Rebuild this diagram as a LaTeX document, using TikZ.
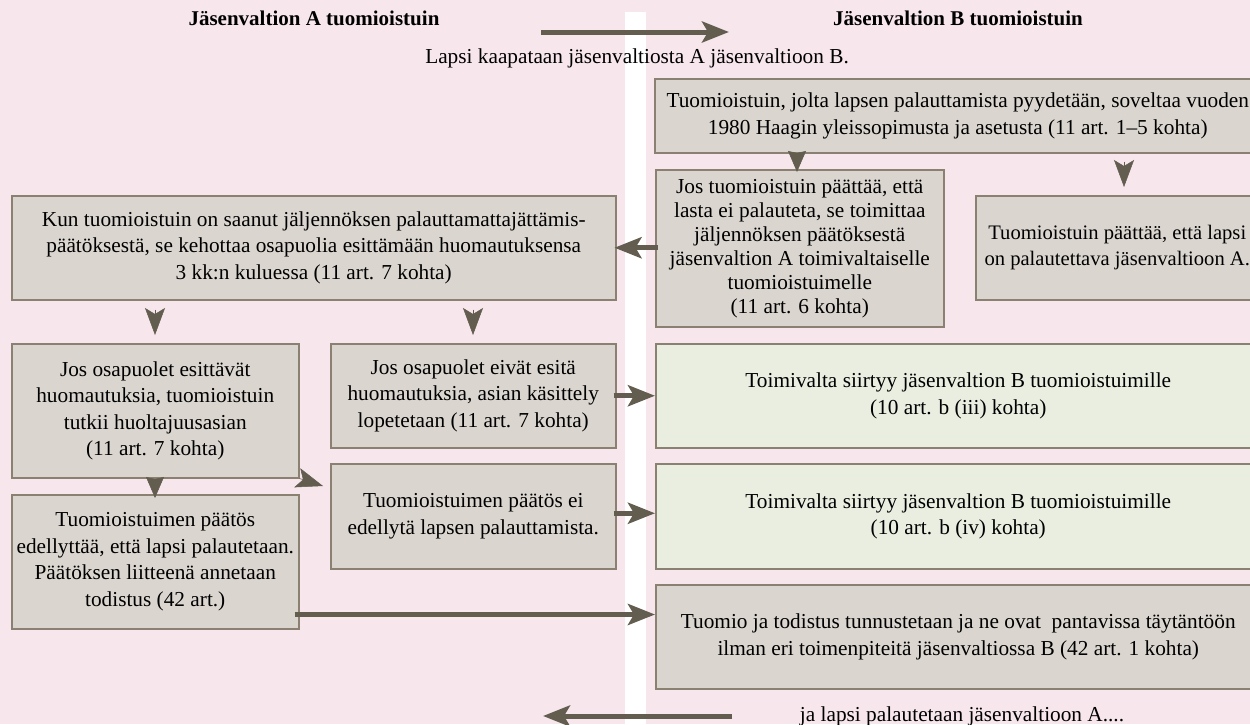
\documentclass[tikz,border=0pt]{standalone}
\usepackage{fontspec}
\setmainfont{Liberation Serif}
\usetikzlibrary{arrows.meta,calc}
\definecolor{bgpink}{HTML}{F7E7ED}
\definecolor{boxgrey}{HTML}{DAD6CF}
\definecolor{boxline}{HTML}{8A8172}
\definecolor{boxgreen}{HTML}{E9EEE1}
\definecolor{arrcol}{HTML}{625D4F}
\tikzset{
  x=1pt, y=-1pt,
  txt/.style={font=\fontsize{21.3}{26.5}\selectfont, align=center, inner sep=0pt},
  ttl/.style={font=\fontsize{21}{24}\selectfont\bfseries, inner sep=0pt},
  box/.style={draw=boxline, line width=1.5pt, fill=boxgrey, anchor=north west,
              font=\fontsize{21.3}{26.5}\selectfont, align=center, inner sep=0pt},
  gbox/.style={box, fill=boxgreen},
  arr/.style={draw=arrcol, line width=5pt,
              -{Stealth[length=27pt,width=21pt,inset=6pt,fill=arrcol]}},
  headonly/.style={draw=arrcol, line width=0.5pt,
              -{Stealth[length=27pt,width=20pt,inset=6pt,fill=arrcol]}},
  headcut/.style={draw=arrcol, line width=0.5pt,
              -{Stealth[length=21pt,width=18pt,inset=2pt,fill=arrcol]}},
}
\begin{document}
\begin{tikzpicture}
\useasboundingbox (0,0) rectangle (1250,724);
\fill[bgpink] (0,0) rectangle (1250,724);
\fill[white] (625,12) rectangle (646,724);

% titles
\node[ttl] (tA) at (314,18) {Jäsenvaltion A tuomioistuin};
\node[ttl] (tB) at (958,18) {Jäsenvaltion B tuomioistuin};
\node[txt] (kaappaus) at (637,58) {Lapsi kaapataan jäsenvaltiosta A jäsenvaltioon B.};
\node[txt] (paluu) at (962,716) {ja lapsi palautetaan jäsenvaltioon A....};

\coordinate (topS) at (541,32);
\coordinate (topE) at (729,32);
\coordinate (botS) at (732,716);
\coordinate (botE) at (543,716);

% boxes, right side
\node[box, minimum width=606pt, minimum height=74pt] (B1) at (654,78)
  {Tuomioistuin, jolta lapsen palauttamista pyydetään, soveltaa vuoden\\
   1980 Haagin yleissopimusta ja asetusta (11 art. 1–5 kohta)};
\node[box, minimum width=288pt, minimum height=157pt,
      font=\fontsize{21.3}{24}\selectfont] (B2) at (655,169)
  {Jos tuomioistuin päättää, että\\lasta ei palauteta, se toimittaa\\jäljennöksen päätöksestä\\
   jäsenvaltion A toimivaltaiselle\\tuomioistuimelle\\(11 art. 6 kohta)};
\node[box, minimum width=297pt, minimum height=104pt,
      font=\fontsize{20.6}{26.5}\selectfont] (B3) at (975,195)
  {Tuomioistuin päättää, että lapsi\hspace*{14pt}\\on palautettava jäsenvaltioon A.\hspace*{14pt}};
\node[gbox, minimum width=605pt, minimum height=104pt] (G1) at (655,343)
  {Toimivalta siirtyy jäsenvaltion B tuomioistuimille\\(10 art. b (iii) kohta)};
\node[gbox, minimum width=605pt, minimum height=105pt] (G2) at (655,463)
  {Toimivalta siirtyy jäsenvaltion B tuomioistuimille\\(10 art. b (iv) kohta)};
\node[box, minimum width=605pt, minimum height=104pt] (B4) at (655,584)
  {Tuomio ja todistus tunnustetaan ja ne ovat\ \ pantavissa täytäntöön\\
   ilman eri toimenpiteitä jäsenvaltiossa B (42 art. 1 kohta)};

% boxes, left side
\node[box, minimum width=604pt, minimum height=104pt] (A1) at (11,195)
  {Kun tuomioistuin on saanut jäljennöksen palauttamattajättämis-\\
   päätöksestä, se kehottaa osapuolia esittämään huomautuksensa\\
   3 kk:n kuluessa (11 art. 7 kohta)};
\node[box, minimum width=287pt, minimum height=134pt] (A2) at (11,343)
  {Jos osapuolet esittävät\\huomautuksia, tuomioistuin\\tutkii huoltajuusasian\\(11 art. 7 kohta)};
\node[box, minimum width=285pt, minimum height=104pt] (A3) at (330,343)
  {Jos osapuolet eivät esitä\\huomautuksia, asian käsittely\\lopetetaan (11 art. 7 kohta)};
\node[box, minimum width=285pt, minimum height=105pt] (A5) at (330,463)
  {Tuomioistuimen päätös ei\\edellytä lapsen palauttamista.};
\node[box, minimum width=287pt, minimum height=134pt] (A4) at (11,494)
  {Tuomioistuimen päätös\\edellyttää, että lapsi palautetaan.\\Päätöksen liitteenä annetaan\\todistus (42 art.)};

% arrows
\draw[arr] (topS) -- (topE);
\draw[arr] (botS) -- (botE);
\draw[headcut] ([xshift=143pt]B1.south west) -- ([xshift=142pt,yshift=-3pt]B2.north west);
\draw[headonly] ([xshift=470pt,yshift=-8pt]B1.south west) -- ([xshift=149pt,yshift=8pt]B3.north west);
\draw[arr] ([xshift=3pt]B2.west |- A1.east) -- ([xshift=-2pt]A1.east);
\draw[headonly] ([xshift=144pt,yshift=-9pt]A1.south west) -- ([xshift=144pt,yshift=8pt]A2.north west);
\draw[headonly] ([xshift=462pt,yshift=-9pt]A1.south west) -- ([xshift=143pt,yshift=8pt]A3.north west);
\draw[arr] ([xshift=-3pt]A3.east) -- (G1.west);
\draw[headcut] ([xshift=144pt]A2.south west) -- ([xshift=144pt,yshift=-4pt]A4.north west);
\draw[headonly] (A2.south east) -- ([xshift=-7pt,yshift=-23pt]A5.north west);
\draw[arr] ([xshift=-3pt,yshift=3pt]A5.east) -- ([yshift=3pt]G2.west);
\draw[arr] ([xshift=-5pt,yshift=15pt]A4.south east) -- ([yshift=15pt]A4.south east -| B4.west);
\end{tikzpicture}
\end{document}
